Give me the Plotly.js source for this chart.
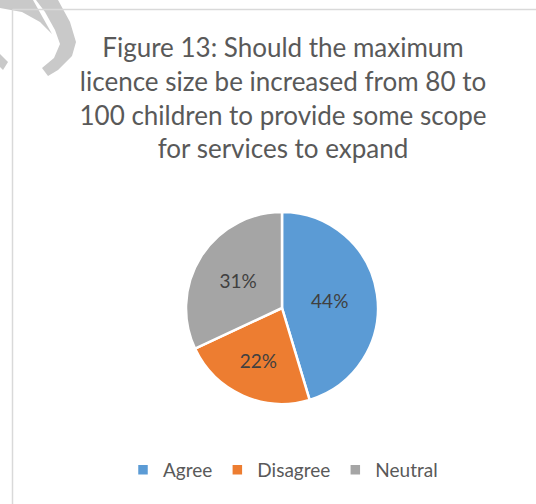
<!DOCTYPE html>
<html>
<head>
<meta charset="utf-8">
<script src="https://cdn.plot.ly/plotly-3.0.1.min.js"></script>
<style>html,body{margin:0;padding:0;background:#fff;}#chart{width:536px;height:504px;}</style>
</head>
<body>
<div id="chart"></div>
<script>
const categories = ["Agree", "Disagree", "Neutral"];
const percentValues = [44, 22, 31];
const sliceColors = ["#5b9bd5", "#ed7d31", "#a5a5a5"];
const chartTitle = "Figure 13: Should the maximum<br>licence size be increased from 80 to<br>100 children to provide some scope<br>for services to expand";

const W = 536, H = 504;
const px = x => x / W;
const py = y => 1 - y / H;

const trace = {
  type: "pie",
  labels: categories,
  values: percentValues,
  texttemplate: "%{value}%",
  textposition: "inside",
  insidetextorientation: "horizontal",
  textfont: {family: "Lato, sans-serif", size: 19, color: "#404040"},
  marker: {colors: sliceColors, line: {color: "#ffffff", width: 2.5}},
  sort: false,
  direction: "clockwise",
  rotation: 0,
  hole: 0,
  domain: {x: [px(186), px(378)], y: [py(404), py(212)]},
  hoverinfo: "label+percent"
};

function path(points) {
  return points.map((p, i) => (i ? "L" : "M") + px(p[0]) + "," + py(p[1])).join(" ") + " Z";
}

const layout = {
  width: W, height: H,
  margin: {l: 0, r: 0, t: 0, b: 0},
  paper_bgcolor: "#ffffff",
  showlegend: true,
  title: {
    text: chartTitle,
    font: {family: "Lato, sans-serif", size: 26, color: "#595959"},
    x: px(283), xanchor: "center",
    y: py(57), yanchor: "top"
  },
  legend: {
    orientation: "h",
    x: px(283), xanchor: "center",
    y: py(470), yanchor: "middle",
    font: {family: "Lato, sans-serif", size: 19, color: "#595959"},
    traceorder: "normal"
  },
  shapes: [
    {type: "path", xref: "paper", yref: "paper", layer: "below",
     path: path([[36,0],[58,0],[70,22],[76,42],[72,56],[58,70],[48,76],[42,68],[54,58],[60,44],[55,30],[45,12]]),
     fillcolor: "#c9c9c9", line: {width: 0}},
    {type: "path", xref: "paper", yref: "paper", layer: "below",
     path: path([[0,0],[33,0],[52,34],[40,22],[22,12],[0,8]]),
     fillcolor: "#c9c9c9", line: {width: 0}},
    {type: "path", xref: "paper", yref: "paper", layer: "below",
     path: path([[0,54],[8,62],[3,70],[0,67]]),
     fillcolor: "#c9c9c9", line: {width: 0}},
    {type: "line", xref: "paper", yref: "paper", x0: px(12.5), x1: 1, y0: py(9.5), y1: py(9.5),
     line: {color: "#d9d9d9", width: 1.5}},
    {type: "line", xref: "paper", yref: "paper", x0: px(12.5), x1: px(12.5), y0: 0, y1: py(9.5),
     line: {color: "#d9d9d9", width: 1.5}}
  ]
};

Plotly.newPlot("chart", [trace], layout, {displayModeBar: false, staticPlot: true});
</script>
</body>
</html>
